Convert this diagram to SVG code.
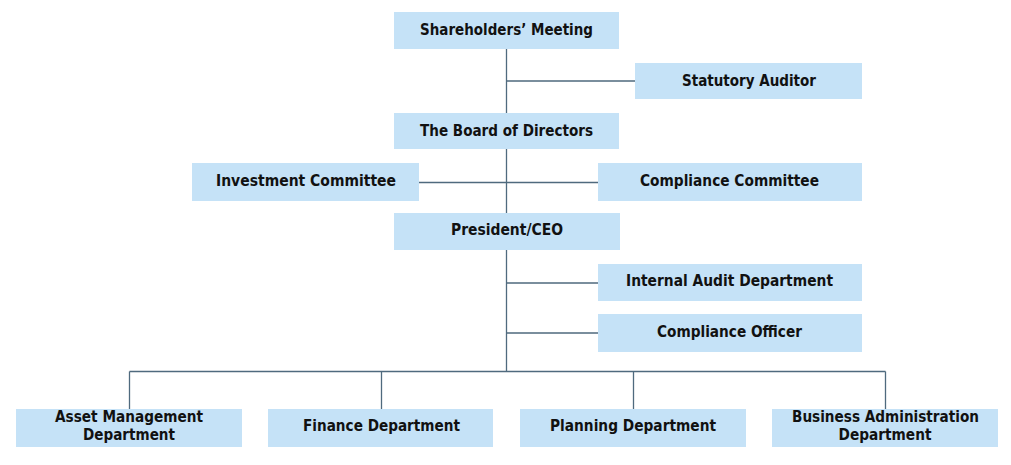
<svg xmlns="http://www.w3.org/2000/svg" width="1011" height="465" viewBox="0 0 1011 465">
<style>
.box{fill:#c5e2f7;stroke:none}
.t{font-family:"DejaVu Sans","Liberation Sans",sans-serif;font-weight:bold;font-size:15px;fill:#111;text-anchor:middle}
.ln{stroke:#4f6a7e;stroke-width:1.3;fill:none}
</style>
<rect width="1011" height="465" fill="#fff"/>
<g id="connectors">
<path class="ln" d="M506.5 49V113M506.5 81H635M506.5 149V213M419 182.5H598M506.5 250V371.5M506.5 283H598M506.5 333H598M129.5 371.5H885.5M129.5 371.5V409M381.5 371.5V409M633.5 371.5V409M885.5 371.5V409"/>
</g>
<g id="shareholders"><rect class="box" x="394" y="12" width="225" height="37"/><text class="t" x="506.5" y="35" textLength="173" lengthAdjust="spacingAndGlyphs">Shareholders’ Meeting</text></g>
<g id="statutory-auditor"><rect class="box" x="635" y="63" width="227" height="36"/><text class="t" x="749" y="86" textLength="134" lengthAdjust="spacingAndGlyphs">Statutory Auditor</text></g>
<g id="board"><rect class="box" x="394" y="113" width="225" height="36"/><text class="t" x="506.5" y="135.5" textLength="173" lengthAdjust="spacingAndGlyphs">The Board of Directors</text></g>
<g id="investment-committee"><rect class="box" x="192" y="163" width="227" height="38"/><text class="t" x="306" y="186" textLength="180" lengthAdjust="spacingAndGlyphs">Investment Committee</text></g>
<g id="compliance-committee"><rect class="box" x="598" y="163" width="264" height="38"/><text class="t" x="729.5" y="186" textLength="179" lengthAdjust="spacingAndGlyphs">Compliance Committee</text></g>
<g id="president"><rect class="box" x="394" y="213" width="226" height="37"/><text class="t" x="507" y="235" textLength="112" lengthAdjust="spacingAndGlyphs">President/CEO</text></g>
<g id="internal-audit"><rect class="box" x="598" y="264" width="264" height="37"/><text class="t" x="729.5" y="286" textLength="207" lengthAdjust="spacingAndGlyphs">Internal Audit Department</text></g>
<g id="compliance-officer"><rect class="box" x="598" y="314" width="264" height="38"/><text class="t" x="729.5" y="337" textLength="145" lengthAdjust="spacingAndGlyphs">Compliance Officer</text></g>
<g id="asset-management"><rect class="box" x="16" y="409" width="226" height="38"/><text class="t" x="129" y="422" textLength="148" lengthAdjust="spacingAndGlyphs">Asset Management</text><text class="t" x="129" y="440" textLength="92" lengthAdjust="spacingAndGlyphs">Department</text></g>
<g id="finance"><rect class="box" x="268" y="409" width="225" height="38"/><text class="t" x="381.5" y="431" textLength="157" lengthAdjust="spacingAndGlyphs">Finance Department</text></g>
<g id="planning"><rect class="box" x="520" y="409" width="226" height="38"/><text class="t" x="633" y="431" textLength="166" lengthAdjust="spacingAndGlyphs">Planning Department</text></g>
<g id="business-administration"><rect class="box" x="772" y="409" width="226" height="38"/><text class="t" x="885.5" y="422" textLength="187" lengthAdjust="spacingAndGlyphs">Business Administration</text><text class="t" x="885" y="440" textLength="93" lengthAdjust="spacingAndGlyphs">Department</text></g>
</svg>
